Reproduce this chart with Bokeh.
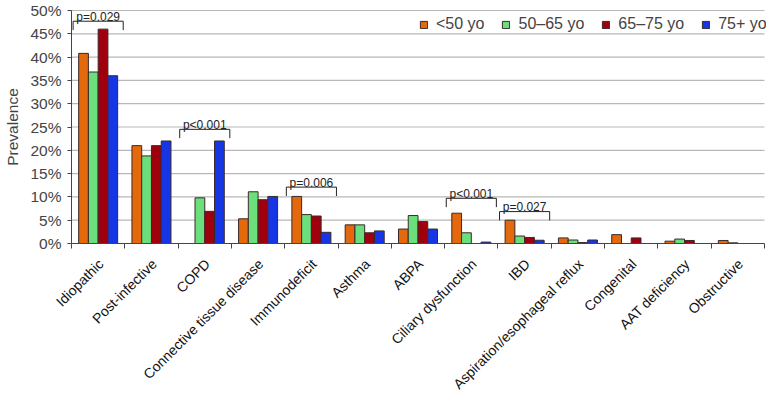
import math
import numpy as np
from bokeh.plotting import figure
from bokeh.models import (Range1d, FixedTicker, PrintfTickFormatter, ColumnDataSource, Legend,
                          LegendItem)
from bokeh.core.properties import value
from bokeh.embed import file_html
from bokeh.resources import INLINE

# ---- data ----
categories = ["Idiopathic", "Post-infective", "COPD", "Connective tissue disease",
              "Immunodeficit", "Asthma", "ABPA", "Ciliary dysfunction", "IBD",
              "Aspiration/esophageal reflux", "Congenital", "AAT deficiency", "Obstructive"]
groups = ["<50 yo", "50\u201365 yo", "65\u201375 yo", "75+ yo"]
under50 = [40.8, 21.0, 0.0, 5.3, 10.1, 4.0, 3.1, 6.5, 5.0, 1.2, 1.9, 0.5, 0.65]
age50_65 = [36.8, 18.8, 9.8, 11.1, 6.2, 4.0, 6.0, 2.3, 1.6, 0.75, 0.0, 0.95, 0.15]
age65_75 = [46.0, 21.0, 6.9, 9.4, 5.9, 2.3, 4.7, 0.0, 1.3, 0.2, 1.2, 0.65, 0.0]
age75plus = [36.0, 22.0, 22.0, 10.1, 2.4, 2.7, 3.1, 0.3, 0.7, 0.75, 0.0, 0.0, 0.0]
series = [under50, age50_65, age65_75, age75plus]
colors = ["#E4680C", "#6BDF7B", "#A0000E", "#1636E6"]

sig_categories = ["Idiopathic", "COPD", "Immunodeficit", "Ciliary dysfunction", "IBD"]
sig_labels = ["p=0.029", "p<0.001", "p=0.006", "p<0.001", "p=0.027"]
sig_heights = [47.7, 24.5, 12.1, 9.7, 6.85]

y_ticks = list(range(0, 51, 5))
Y_MAX = 50

FONT = "Liberation Sans"
W, H = 766, 394
n = len(categories)
# layout of the plotting area inside the canvas (pixels)
AX_LEFT = 71          # x of the value axis
AX_RIGHT = 2          # space right of the category axis end
AX_TOP = 10           # y of the 50% line
AX_BOTTOM = 243       # y of the 0% line
px_per_cat = (W - AX_LEFT - AX_RIGHT) / n
px_per_pct = (AX_BOTTOM - AX_TOP) / Y_MAX

p = figure(width=W, height=H, output_backend="svg", toolbar_location=None,
           x_range=Range1d(-AX_LEFT / px_per_cat, n + AX_RIGHT / px_per_cat),
           y_range=Range1d(-(H - AX_BOTTOM) / px_per_pct, Y_MAX + AX_TOP / px_per_pct),
           min_border=0, x_axis_location="below", y_axis_location="left")
p.outline_line_color = None
p.xgrid.grid_line_color = None
p.ygrid.grid_line_color = None

# horizontal gridlines, only across the plotting area
p.segment(x0=[0] * len(y_ticks), x1=[n] * len(y_ticks), y0=y_ticks, y1=y_ticks,
          line_color="#B8B8B8", line_width=1.2)

bar_w = 0.183
idx = np.arange(n)
items = []
for j, (vals, col, name) in enumerate(zip(series, colors, groups)):
    xs = idx + 0.5 + (j - 1.5) * bar_w
    src = ColumnDataSource(dict(x=xs, top=vals))
    r = p.vbar(x="x", top="top", bottom=0, width=bar_w, source=src,
               fill_color=col, line_color="#3a2a2a", line_width=1)
    items.append(LegendItem(label=name, renderers=[r]))

# significance brackets
leg = 1.9
bx, by, tx, ty = [], [], [], []
for cat, h in zip(sig_categories, sig_heights):
    i = categories.index(cat)
    x0, x1 = i + 0.03, i + 0.97
    bx.append([x0, x0, x1, x1])
    by.append([h - leg, h, h, h - leg])
    tx.append((x0 + x1) / 2)
    ty.append(h)
p.multi_line(xs=bx, ys=by, line_color="#222222", line_width=1)
p.text(x=tx, y=ty, text=sig_labels, text_align="center", text_baseline="alphabetic",
       y_offset=-4.5, text_font=value(FONT), text_font_size="12px", text_color="#222222")

# value axis
p.yaxis.fixed_location = 0
p.yaxis.bounds = (0, Y_MAX)
p.yaxis.ticker = FixedTicker(ticks=y_ticks)
p.yaxis.formatter = PrintfTickFormatter(format="%d%%")
p.yaxis.axis_label = "Prevalence"
p.yaxis.axis_label_text_font_style = "normal"
p.yaxis.axis_label_text_font = FONT
p.yaxis.axis_label_text_font_size = "15.5px"
p.yaxis.axis_label_standoff = 6
p.yaxis.major_label_text_font = FONT
p.yaxis.major_label_text_font_size = "15.5px"
p.yaxis.major_label_standoff = 6
p.yaxis.major_tick_out = 4
p.yaxis.major_tick_in = 0
p.yaxis.minor_tick_out = 0
p.yaxis.minor_tick_in = 0
p.yaxis.axis_line_color = "#444444"
p.yaxis.major_tick_line_color = "#444444"

# category axis (boundary ticks only)
p.xaxis.fixed_location = 0
p.xaxis.bounds = (0, n)
p.xaxis.ticker = FixedTicker(ticks=[], minor_ticks=list(range(n + 1)))
p.xaxis.major_tick_out = 0
p.xaxis.major_tick_in = 0
p.xaxis.minor_tick_out = 5
p.xaxis.minor_tick_in = 0
p.xaxis.axis_line_color = "#444444"
p.xaxis.minor_tick_line_color = "#444444"

# category labels, rotated 45 degrees, ending under each category
gap_px = 18
lab_src = ColumnDataSource(dict(x=idx + 0.5 + 0.05,
                                y=[-gap_px / px_per_pct] * n,
                                text=categories))
p.text(x="x", y="y", text="text", source=lab_src, angle=math.pi / 4,
       text_align="right", text_baseline="middle",
       text_font=value(FONT), text_font_size="14px", text_color="#111111")

legend = Legend(items=items, orientation="horizontal", location=(AX_LEFT + 348, H - 33),
                label_text_font=FONT, label_text_font_size="16px",
                glyph_width=9, glyph_height=9, label_standoff=8, spacing=17,
                padding=1, margin=0, border_line_color=None, background_fill_alpha=0)
p.add_layout(legend, "center")

open("out.html", "w").write(file_html(p, INLINE))
